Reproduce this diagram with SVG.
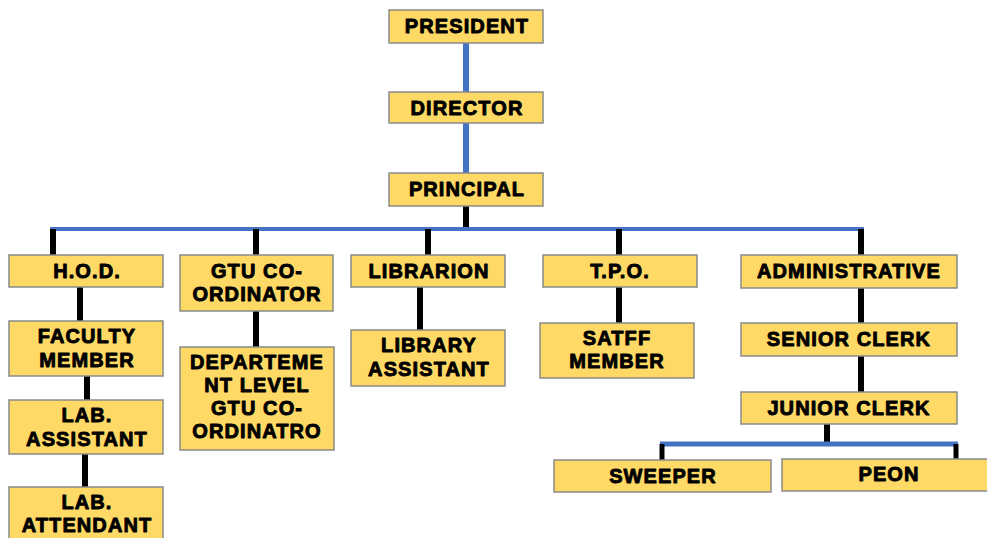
<svg xmlns="http://www.w3.org/2000/svg" width="987" height="538" viewBox="0 0 987 538">
<style>
.box{fill:#FFD966;stroke:#8A8A8A;stroke-width:1.5}
.t{font-family:"Liberation Sans",Arial,sans-serif;font-weight:bold;font-size:20px;letter-spacing:1.1px;fill:#000;stroke:#000;stroke-width:0.9;stroke-linejoin:round;text-anchor:middle}
.blk{stroke:#000;fill:none}
.blu{stroke:#4472C4;fill:none}
</style>
<rect width="987" height="538" fill="#fff"/>
<g id="connectors">
<line class="blu" x1="466" y1="43" x2="466" y2="92" stroke-width="6"/>
<line class="blu" x1="466" y1="123" x2="466" y2="173" stroke-width="6"/>
<line class="blk" x1="466" y1="206" x2="466" y2="229" stroke-width="6"/>
<line class="blu" x1="50" y1="229" x2="864" y2="229" stroke-width="4"/>
<line class="blk" x1="53" y1="229" x2="53" y2="255" stroke-width="6"/>
<line class="blk" x1="256" y1="229" x2="256" y2="255" stroke-width="6"/>
<line class="blk" x1="428" y1="229" x2="428" y2="255" stroke-width="6"/>
<line class="blk" x1="619" y1="229" x2="619" y2="255" stroke-width="6"/>
<line class="blk" x1="861" y1="229" x2="861" y2="255" stroke-width="6"/>
<line class="blk" x1="80" y1="287" x2="80" y2="321" stroke-width="6"/>
<line class="blk" x1="87" y1="376" x2="87" y2="400" stroke-width="6"/>
<line class="blk" x1="85" y1="454" x2="85" y2="487" stroke-width="6"/>
<line class="blk" x1="256" y1="311" x2="256" y2="347" stroke-width="6"/>
<line class="blk" x1="420" y1="287" x2="420" y2="330" stroke-width="6"/>
<line class="blk" x1="619" y1="287" x2="619" y2="323" stroke-width="6"/>
<line class="blk" x1="861" y1="288" x2="861" y2="323" stroke-width="6"/>
<line class="blk" x1="861" y1="356" x2="861" y2="392" stroke-width="6"/>
<line class="blk" x1="827" y1="424" x2="827" y2="444" stroke-width="6"/>
<line class="blu" x1="660" y1="444" x2="958" y2="444" stroke-width="5"/>
<line class="blk" x1="662" y1="444" x2="662" y2="460" stroke-width="5"/>
<line class="blk" x1="956" y1="444" x2="956" y2="459" stroke-width="5"/>
</g>
<g id="president"><rect class="box" x="389" y="10" width="154" height="33"/><text class="t" x="467" y="33">PRESIDENT</text></g>
<g id="director"><rect class="box" x="389" y="92" width="154" height="31"/><text class="t" x="467" y="115">DIRECTOR</text></g>
<g id="principal"><rect class="box" x="389" y="173" width="154" height="33"/><text class="t" x="467" y="196">PRINCIPAL</text></g>
<g id="hod"><rect class="box" x="9" y="255" width="154" height="32"/><text class="t" x="87" y="278">H.O.D.</text></g>
<g id="faculty-member"><rect class="box" x="9" y="321" width="154" height="55"/><text class="t" x="87" y="343">FACULTY</text><text class="t" x="87" y="366.5">MEMBER</text></g>
<g id="lab-assistant"><rect class="box" x="9" y="400" width="154" height="54"/><text class="t" x="87" y="422">LAB.</text><text class="t" x="87" y="445.5">ASSISTANT</text></g>
<g id="lab-attendant"><rect class="box" x="9" y="487" width="154" height="54"/><text class="t" x="87" y="508.5">LAB.</text><text class="t" x="87" y="532">ATTENDANT</text></g>
<g id="gtu-coordinator"><rect class="box" x="180" y="255" width="153" height="56"/><text class="t" x="257" y="277.5">GTU CO-</text><text class="t" x="257" y="301">ORDINATOR</text></g>
<g id="dept-gtu-coordinator"><rect class="box" x="180" y="347" width="154" height="103"/><text class="t" x="257" y="368.5">DEPARTEME</text><text class="t" x="257" y="391.8">NT LEVEL</text><text class="t" x="257" y="415.1">GTU CO-</text><text class="t" x="257" y="438.4">ORDINATRO</text></g>
<g id="librarion"><rect class="box" x="351" y="255" width="154" height="32"/><text class="t" x="429" y="277.5">LIBRARION</text></g>
<g id="library-assistant"><rect class="box" x="351" y="330" width="154" height="56"/><text class="t" x="429" y="352">LIBRARY</text><text class="t" x="429" y="375.5">ASSISTANT</text></g>
<g id="tpo"><rect class="box" x="543" y="255" width="154" height="32"/><text class="t" x="620" y="277.5">T.P.O.</text></g>
<g id="staff-member"><rect class="box" x="540" y="323" width="154" height="55"/><text class="t" x="617" y="344.5">SATFF</text><text class="t" x="617" y="368">MEMBER</text></g>
<g id="administrative"><rect class="box" x="741" y="255" width="216" height="33"/><text class="t" x="849" y="278">ADMINISTRATIVE</text></g>
<g id="senior-clerk"><rect class="box" x="741" y="323" width="216" height="33"/><text class="t" x="849" y="346">SENIOR CLERK</text></g>
<g id="junior-clerk"><rect class="box" x="741" y="392" width="216" height="32"/><text class="t" x="849" y="414.5">JUNIOR CLERK</text></g>
<g id="sweeper"><rect class="box" x="554" y="460" width="217" height="32"/><text class="t" x="663" y="483">SWEEPER</text></g>
<g id="peon"><rect class="box" x="782" y="459" width="213" height="32"/><text class="t" x="889" y="481">PEON</text></g>
</svg>
